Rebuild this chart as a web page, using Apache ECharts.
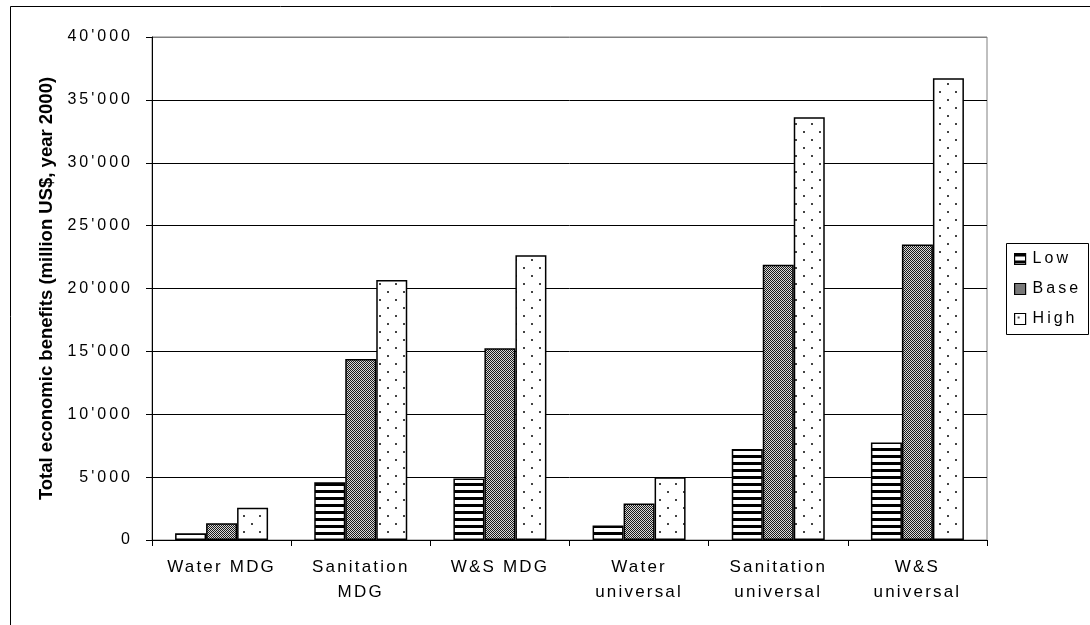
<!DOCTYPE html>
<html>
<head>
<meta charset="utf-8">
<script src="https://cdn.jsdelivr.net/npm/echarts@6/dist/echarts.min.js"></script>
<style>
html,body{margin:0;padding:0;background:#fff;}
#c{width:1090px;height:625px;}
</style>
</head>
<body>
<div id="c"></div>
<script>
// ---- data ----
const categories = ['Water MDG', 'Sanitation\nMDG', 'W&S MDG', 'Water\nuniversal', 'Sanitation\nuniversal', 'W&S\nuniversal'];
const seriesNames = ['Low', 'Base', 'High'];
const lowValues  = [530, 4590, 4900, 1150, 7230, 7750];
const baseValues = [1330, 14400, 15240, 2900, 21880, 23500];
const highValues = [2570, 20670, 22650, 5000, 33620, 36720];
const yTicks = [0, 5000, 10000, 15000, 20000, 25000, 30000, 35000, 40000];

// letter spacing for the wide Excel-like text rendering
(function(){
  const proto = CanvasRenderingContext2D.prototype;
  const orig = proto.fillText;
  proto.fillText = function(t, x, y, w){
    const prev = this.letterSpacing;
    const f = this.font || '';
    let ls = '0px';
    if (!/bold/.test(f)) {
      if (/17px/.test(f)) ls = '2.2px';
      else if (/16px/.test(f)) ls = '3px';
    }
    try { this.letterSpacing = ls; } catch(e) {}
    const r = arguments.length > 3 ? orig.call(this, t, x, y, w) : orig.call(this, t, x, y);
    try { this.letterSpacing = prev; } catch(e) {}
    return r;
  };
})();

function makePattern(kind){
  const c = document.createElement('canvas');
  const g = c.getContext('2d');
  if (kind === 'stripes') {
    c.width = 8; c.height = 7;
    g.fillStyle = '#fff'; g.fillRect(0,0,8,7);
    g.fillStyle = '#000'; g.fillRect(0,0,8,3);
  } else if (kind === 'checker') {
    c.width = 2; c.height = 2;
    g.fillStyle = '#d8d8d8'; g.fillRect(0,0,2,2);
    g.fillStyle = '#1a1a1a'; g.fillRect(0,0,1,1); g.fillRect(1,1,1,1);
  } else {
    c.width = 16; c.height = 16;
    g.fillStyle = '#fff'; g.fillRect(0,0,16,16);
    g.fillStyle = '#444';
    g.fillRect(3,3,2,2); g.fillRect(11,11,2,2);
  }
  return {image: c, repeat: 'repeat'};
}

const patterns = [makePattern('stripes'), makePattern('checker'), makePattern('dots')];
const valuesList = [lowValues, baseValues, highValues];

const fmt = v => String(v).replace(/\B(?=(\d{3})+(?!\d))/g, "'");

const chart = echarts.init(document.getElementById('c'), null, {renderer: 'canvas'});
const FONT = '"Liberation Sans", Arial, sans-serif';

chart.setOption({
  animation: false,
  backgroundColor: '#fff',
  textStyle: {fontFamily: FONT, color: '#000'},
  graphic: [
    {type: 'rect', left: 8, top: 4, shape: {width: 1200, height: 1000}, style: {fill: 'none', stroke: '#000', lineWidth: 1}, silent: true},
    {type: 'rect', left: 1006, top: 243, shape: {width: 82, height: 91}, style: {fill: '#fff', stroke: '#000', lineWidth: 1}, silent: true, z: 0}
  ],
  grid: {left: 152, top: 37, right: 103, bottom: 85, show: true, borderColor: '#808080', borderWidth: 1, backgroundColor: 'transparent'},
  legend: {
    orient: 'vertical',
    left: 1006, top: 244,
    padding: [6, 6, 6, 8],
    itemWidth: 11, itemHeight: 11, itemGap: 12,
    icon: 'rect',
    z: 5,
    textStyle: {fontFamily: FONT, fontSize: 16, color: '#000', padding: [0, 0, 0, 2], lineHeight: 18},
    itemStyle: {borderColor: '#000', borderWidth: 1.2},
    data: seriesNames
  },
  xAxis: {
    type: 'category',
    data: categories,
    axisLine: {show: true, lineStyle: {color: '#000', width: 1}},
    axisTick: {show: true, length: 6, interval: 0, lineStyle: {color: '#000'}},
    axisLabel: {interval: 0, fontFamily: FONT, fontSize: 17, color: '#000', lineHeight: 25, margin: 15},
    splitLine: {show: false}
  },
  yAxis: {
    type: 'value',
    min: 0, max: 40000, interval: 5000,
    name: 'Total economic benefits (million US$, year 2000)',
    nameLocation: 'middle',
    nameGap: 96,
    nameTextStyle: {fontFamily: FONT, fontSize: 18.5, fontWeight: 'bold', color: '#000'},
    axisLine: {show: true, lineStyle: {color: '#000', width: 1}},
    axisTick: {show: true, length: 6, lineStyle: {color: '#000'}},
    axisLabel: {fontFamily: FONT, fontSize: 16, color: '#000', margin: 19, formatter: v => fmt(v)},
    splitLine: {show: true, lineStyle: {color: yTicks.map((t, i) => i === yTicks.length - 1 ? '#808080' : '#000'), width: 1}}
  },
  series: seriesNames.map((name, i) => ({
    name: name,
    type: 'bar',
    data: valuesList[i],
    barWidth: 31,
    barGap: '0%',
    itemStyle: {color: patterns[i], borderColor: '#000', borderWidth: 1.5},
    emphasis: {disabled: true}
  }))
});
</script>
</body>
</html>
